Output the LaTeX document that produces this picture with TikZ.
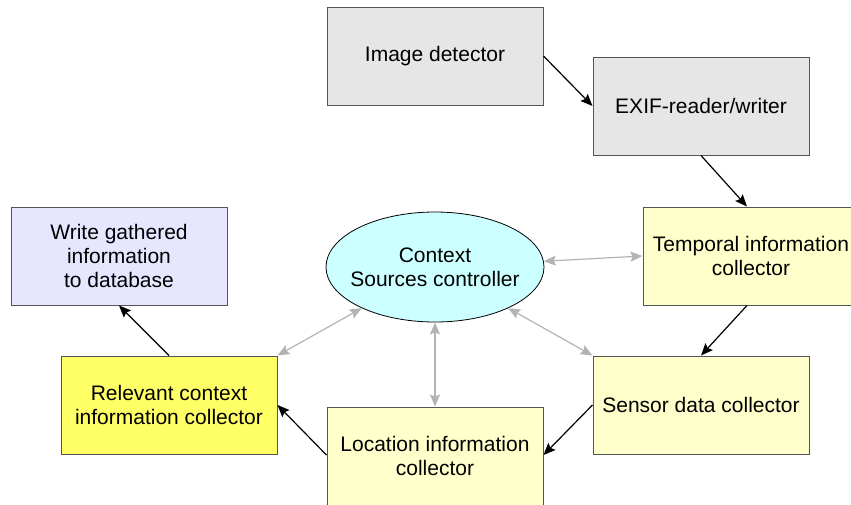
\documentclass[tikz,border=0pt]{standalone}
\usepackage{fontspec}
\setmainfont{Liberation Sans}
\usetikzlibrary{arrows.meta}
\usetikzlibrary{shapes.geometric}

\definecolor{boxline}{HTML}{555555}
\definecolor{boxgray}{HTML}{E6E6E6}
\definecolor{paleyellow}{HTML}{FFFFCC}
\definecolor{brightyellow}{HTML}{FFFF66}
\definecolor{paleblue}{HTML}{E6E6FF}
\definecolor{palecyan}{HTML}{CCFFFF}
\definecolor{linkgray}{HTML}{B3B3B3}

\begin{document}
\begin{tikzpicture} [x=1pt,y=-1pt,
  box/.style={draw=boxline, line width=1pt, minimum width=216pt, minimum height=98pt, align=center, inner sep=2pt, font=\fontsize{21}{24}\selectfont},
  flow/.style={-{Stealth[length=12pt,width=10pt,inset=2pt]}, line width=1.2pt},
  link/.style={{Stealth[length=12pt,width=10pt,inset=2pt]}-{Stealth[length=12pt,width=10pt,inset=2pt]}, draw=linkgray, line width=1.2pt}]
\useasboundingbox (0,0) rectangle (851,504);

\node[box, fill=boxgray] (imgdet) at (435,56) {Image detector};
\node[box, fill=boxgray] (exif) at (701,106) {EXIF-reader/writer};
\node[box, fill=paleyellow] (temporal) at (751,256) {Temporal information\\collector};
\node[box, fill=paleyellow] (sensor) at (701,405) {Sensor data collector};
\node[box, fill=paleyellow] (location) at (435,456) {Location information\\collector};
\node[box, fill=brightyellow] (relevant) at (169,405) {Relevant context\\information collector};
\node[box, fill=paleblue] (writedb) at (119,256) {Write gathered\\information\\to database};
\node[ellipse, draw, fill=palecyan, line width=.8pt, minimum width=218pt, minimum height=110pt, align=center, inner xsep=-12pt, inner ysep=0pt, font=\fontsize{21}{24}\selectfont] (ctrl) at (435,267) {Context\\Sources controller};

\draw[flow] (imgdet.east) -- (exif.west);
\draw[flow] (exif.south) -- (temporal.north -| 747,0);
\draw[flow] (temporal.south -| 747,0) -- (sensor.north);
\draw[flow] (sensor.west) -- (location.east |- 0,455);
\draw[flow] (location.west |- 0,455) -- (relevant.east);
\draw[flow] (relevant.north) -- (writedb.south);

\draw[link] (ctrl) -- (temporal.west);
\draw[link] (ctrl) -- (sensor.north west);
\draw[link] (ctrl) -- (location.north);
\draw[link] (ctrl) -- (relevant.north east);
\end{tikzpicture}
\end{document}
